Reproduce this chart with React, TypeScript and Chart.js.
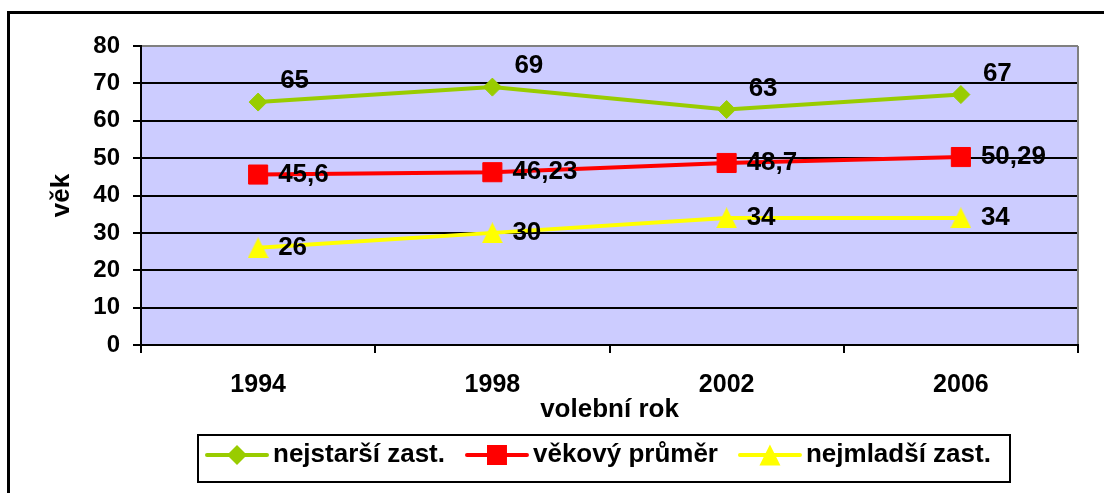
import React, { useEffect, useRef } from 'react';
import { Chart, registerables } from 'chart.js';

Chart.register(...registerables);

// ---- data ----
const years = ['1994', '1998', '2002', '2006'];
const oldest = [65, 69, 63, 67];
const average = [45.6, 46.23, 48.7, 50.29];
const youngest = [26, 30, 34, 34];
const seriesNames = ['nejstarší zast.', 'věkový průměr', 'nejmladší zast.'];
const xTitle = 'volební rok';
const yTitle = 'věk';
const yMin = 0;
const yMax = 80;
const yStep = 10;

// ---- style ----
const FONT = '"Liberation Sans", Arial, Helvetica, sans-serif';
const GREEN = '#99CC00';
const RED = '#FF0000';
const YELLOW = '#FFFF00';
const PLOT_BG = '#CCCCFF';
const labelOffsets = [
  { dx: 22, dy: -21 },
  { dx: 20, dy: 0 },
  { dx: 20, dy: 0 },
];

function makeTriangle(size: number, color: string) {
  const c = document.createElement('canvas');
  c.width = size;
  c.height = size;
  const g = c.getContext('2d')!;
  g.fillStyle = color;
  g.beginPath();
  g.moveTo(size / 2, 0);
  g.lineTo(size, size);
  g.lineTo(0, size);
  g.closePath();
  g.fill();
  return c;
}

function drawMarker(ctx: CanvasRenderingContext2D, kind: number, x: number, y: number, color: string) {
  ctx.fillStyle = color;
  ctx.beginPath();
  if (kind === 0) {
    const r = 10;
    ctx.moveTo(x - r, y);
    ctx.lineTo(x, y - r);
    ctx.lineTo(x + r, y);
    ctx.lineTo(x, y + r);
  } else if (kind === 1) {
    ctx.rect(x - 10, y - 10, 20, 20);
  } else {
    ctx.moveTo(x, y - 10.5);
    ctx.lineTo(x + 10.5, y + 10.5);
    ctx.lineTo(x - 10.5, y + 10.5);
  }
  ctx.closePath();
  ctx.fill();
}

const plotBgPlugin = {
  id: 'plotBg',
  beforeDraw(chart: any) {
    const { ctx, chartArea: a } = chart;
    ctx.save();
    ctx.fillStyle = '#FFFFFF';
    ctx.fillRect(0, 0, chart.width, chart.height);
    ctx.fillStyle = PLOT_BG;
    ctx.fillRect(a.left, a.top, a.right - a.left, a.bottom - a.top);
    ctx.restore();
  },
  beforeDatasetsDraw(chart: any) {
    const { ctx, chartArea: a } = chart;
    ctx.save();
    ctx.strokeStyle = '#808080';
    ctx.lineWidth = 2;
    ctx.beginPath();
    ctx.moveTo(a.right, a.top);
    ctx.lineTo(a.right, a.bottom - 1);
    ctx.stroke();
    ctx.restore();
  },
};

const valueLabelsPlugin = {
  id: 'valueLabels',
  afterDatasetsDraw(chart: any) {
    const ctx = chart.ctx;
    ctx.save();
    ctx.font = `bold 26px ${FONT}`;
    ctx.fillStyle = '#000';
    ctx.textAlign = 'left';
    ctx.textBaseline = 'middle';
    chart.data.datasets.forEach((ds: any, i: number) => {
      const meta = chart.getDatasetMeta(i);
      const off = labelOffsets[i];
      meta.data.forEach((pt: any, j: number) => {
        const txt = String(ds.data[j]).replace('.', ',');
        ctx.fillText(txt, pt.x + off.dx, pt.y + off.dy);
      });
    });
    ctx.restore();
  },
};

const legendPlugin = {
  id: 'customLegend',
  afterDraw(chart: any) {
    const ctx = chart.ctx as CanvasRenderingContext2D;
    ctx.save();
    // legend box
    ctx.strokeStyle = '#000';
    ctx.lineWidth = 2;
    ctx.strokeRect(198, 435, 812, 47);
    ctx.font = `bold 26px ${FONT}`;
    ctx.textBaseline = 'middle';
    ctx.textAlign = 'left';
    const colors = [GREEN, RED, YELLOW];
    const cy = 455;
    let x = 207;
    chart.data.datasets.forEach((ds: any, i: number) => {
      ctx.strokeStyle = colors[i];
      ctx.lineWidth = 4;
      ctx.lineCap = 'round';
      ctx.beginPath();
      ctx.moveTo(x, cy);
      ctx.lineTo(x + 60, cy);
      ctx.stroke();
      drawMarker(ctx, i, x + 30, cy, colors[i]);
      ctx.fillStyle = '#000';
      const label = ds.label as string;
      ctx.fillText(label, x + 66, cy);
      x += 66 + ctx.measureText(label).width + 22;
    });
    // outer frame
    ctx.strokeStyle = '#000';
    ctx.lineWidth = 3;
    ctx.lineCap = 'butt';
    ctx.beginPath();
    ctx.moveTo(8.5, chart.height + 2);
    ctx.lineTo(8.5, 12.5);
    ctx.lineTo(chart.width + 2, 12.5);
    ctx.stroke();
    ctx.restore();
  },
};

export default function App() {
  const ref = useRef<HTMLCanvasElement>(null);

  useEffect(() => {
    const tri = makeTriangle(21, YELLOW);
    const chart = new Chart(ref.current as HTMLCanvasElement, {
      type: 'line',
      data: {
        labels: years,
        datasets: [
          {
            label: seriesNames[0],
            data: oldest,
            borderColor: GREEN,
            backgroundColor: GREEN,
            borderWidth: 4,
            pointStyle: 'rectRot',
            pointRadius: 9,
            pointBorderWidth: 1,
            pointBackgroundColor: GREEN,
            pointBorderColor: GREEN,
            tension: 0,
          },
          {
            label: seriesNames[1],
            data: average,
            borderColor: RED,
            backgroundColor: RED,
            borderWidth: 4,
            pointStyle: 'rect',
            pointRadius: 13.5,
            pointBorderWidth: 1,
            pointBackgroundColor: RED,
            pointBorderColor: RED,
            tension: 0,
          },
          {
            label: seriesNames[2],
            data: youngest,
            borderColor: YELLOW,
            backgroundColor: YELLOW,
            borderWidth: 4,
            pointStyle: tri as any,
            pointRadius: 10,
            pointBorderWidth: 0,
            tension: 0,
          },
        ],
      },
      options: {
        responsive: false,
        animation: false,
        devicePixelRatio: 1,
        layout: { padding: { left: 0, top: 46, right: 26, bottom: 0 } },
        plugins: {
          legend: { display: false },
          tooltip: { enabled: false },
          title: { display: false },
        },
        scales: {
          x: {
            type: 'category',
            offset: true,
            grid: {
              display: true,
              drawOnChartArea: false,
              drawTicks: true,
              tickLength: 8,
              color: '#000',
              lineWidth: 2,
              offset: true,
            },
            border: { display: true, color: '#000', width: 2 },
            ticks: {
              color: '#000',
              font: { family: FONT, size: 25, weight: 'bold' },
              padding: 17,
              maxRotation: 0,
              autoSkip: false,
            },
            title: {
              display: true,
              text: xTitle,
              color: '#000',
              font: { family: FONT, size: 26, weight: 'bold' },
              padding: { top: 0, bottom: 68 },
            },
            afterFit: (s: any) => {
              s.height = 148;
            },
          },
          y: {
            min: yMin,
            max: yMax,
            ticks: {
              stepSize: yStep,
              color: '#000',
              font: { family: FONT, size: 24, weight: 'bold' },
              padding: 13,
            },
            grid: {
              color: (c: any) => (c.tick && c.tick.value === yMax ? '#808080' : '#000'),
              tickColor: '#000',
              lineWidth: 2,
              tickLength: 8,
            },
            border: { display: true, color: '#000', width: 2 },
            title: {
              display: true,
              text: yTitle,
              color: '#000',
              font: { family: FONT, size: 26, weight: 'bold' },
              padding: { top: 46, bottom: 0 },
            },
            afterFit: (s: any) => {
              s.width = 141;
            },
          },
        },
      } as any,
      plugins: [plotBgPlugin, valueLabelsPlugin, legendPlugin],
    });
    return () => chart.destroy();
  }, []);

  return (
    <div style={{ position: 'fixed', left: 0, top: 0, width: 1104, height: 493, background: '#fff', overflow: 'hidden' }}>
      <canvas ref={ref} width={1104} height={493} style={{ display: 'block' }} />
    </div>
  );
}
